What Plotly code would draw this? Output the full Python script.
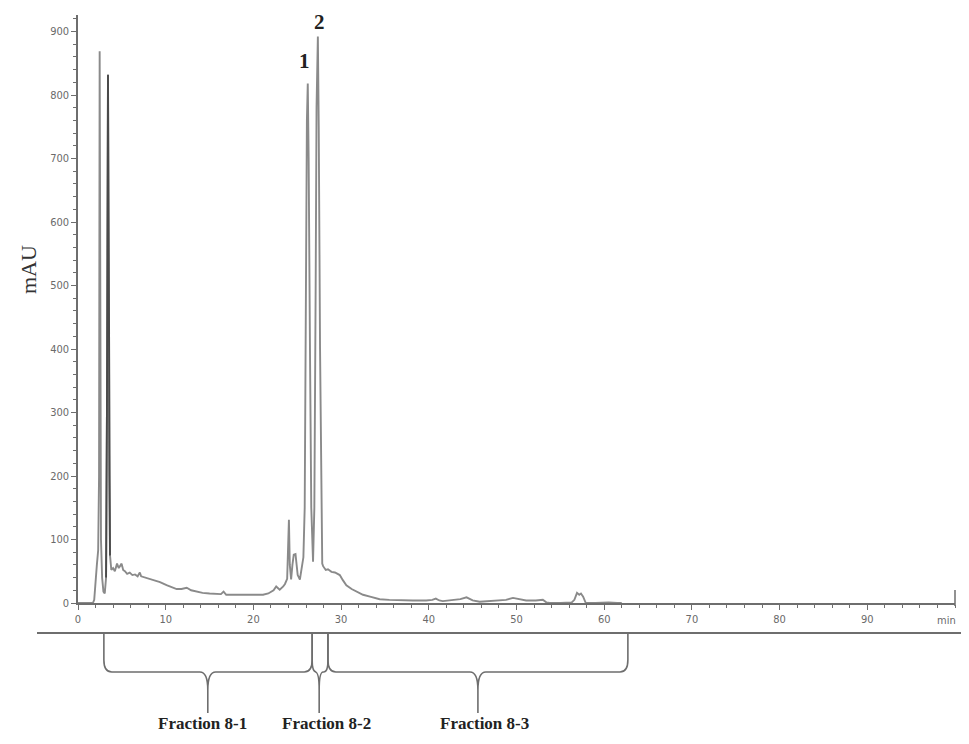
import plotly.graph_objects as go

# ---- data (time in min, absorbance in mAU) ----
time_min = [0, 1.7, 1.85, 2.0, 2.15, 2.3, 2.4, 2.47, 2.55, 2.62, 2.75, 2.9, 3.05, 3.2, 3.3, 3.42, 3.55, 3.65,
            3.8, 4.0, 4.2, 4.45, 4.65, 4.8, 4.97, 5.15, 5.35, 5.6, 5.9, 6.2, 6.5, 6.8, 7.05, 7.2, 7.7, 8.2,
            8.8, 9.35, 10.1, 10.7, 11.25, 11.8, 12.4, 12.9, 13.5, 14.2, 15.0, 15.8, 16.3, 16.6, 16.9, 18.0,
            19.2, 20.2, 21.1, 21.7, 22.3, 22.6, 23.0, 23.4, 23.6, 23.85, 23.95, 24.05, 24.15, 24.3, 24.45,
            24.6, 24.8, 24.95, 25.05, 25.3, 25.55, 25.7, 25.85, 25.95, 26.1, 26.2, 26.3, 26.45, 26.6, 26.8,
            26.95, 27.1, 27.2, 27.35, 27.45, 27.6, 27.75, 27.85, 27.95, 28.1, 28.25, 28.5, 28.9, 29.3, 29.65,
            29.85, 30.2, 30.6, 31.2, 31.8, 32.5, 33.3, 34.4, 35.5, 36.8, 38.2, 39.7, 40.4, 40.8, 41.2, 41.6,
            42.7, 43.6, 44.3, 45.0, 45.8, 46.8, 47.7, 48.8, 49.6, 50.4, 51.1, 52.2, 53.0, 53.4, 53.8, 55.0,
            56.3, 56.6, 56.9, 57.15, 57.35, 57.6, 57.9, 59.0, 60.5, 61.5, 62.0]
absorbance = [0, 0, 5, 40, 60, 83, 200, 869, 430, 100, 40, 18, 15, 40, 300, 832, 200, 75,
              52, 55, 50, 62, 55, 58, 62, 52, 50, 46, 48, 44, 45, 42, 48, 42, 40, 38,
              36, 33, 28, 25, 22, 22, 24, 20, 18, 16, 15, 15, 14, 18, 13, 13,
              13, 13, 13, 15, 20, 26, 21, 26, 30, 38, 90, 131, 60, 37, 60,
              76, 77, 55, 44, 37, 55, 72, 150, 500, 760, 818, 700, 400, 150, 65,
              150, 500, 780, 892, 750, 400, 120, 62, 58, 55, 52, 53, 49, 48, 46,
              44, 36, 28, 22, 18, 13, 10, 6, 5, 4, 4, 4, 5, 7, 4, 3,
              4, 6, 9, 4, 2, 3, 3, 5, 8, 6, 4, 4, 5, 1, 0, 0,
              1, 5, 16, 13, 15, 10, 0, 0, 1, 0, 0]

peak_labels = ["1", "2"]
peak_label_time = [25.8, 27.5]
peak_label_mau = [853, 915]

fractions = ["Fraction 8-1", "Fraction 8-2", "Fraction 8-3"]
frac_start = [2.95, 26.7, 28.5]
frac_end = [26.7, 28.5, 62.7]
frac_cusp = [14.8, 27.5, 45.6]
frac_label_x = [14.2, 28.3, 46.3]

X_MAX = 100
Y_MAX = 926

fig = go.Figure()
fig.add_trace(go.Scatter(x=time_min, y=absorbance, mode="lines",
                         line=dict(color="#8a8a8a", width=1.9), hoverinfo="skip",
                         showlegend=False))
# darker stroke of the second early peak
sel = [i for i, t in enumerate(time_min) if 3.2 <= t <= 3.65]
fig.add_trace(go.Scatter(x=[time_min[i] for i in sel], y=[absorbance[i] for i in sel], mode="lines",
                         line=dict(color="#4a4a4a", width=1.9), hoverinfo="skip", showlegend=False))

tick_font = dict(family="DejaVu Sans Condensed, Liberation Sans Narrow, Arial Narrow, Roboto, sans-serif",
                 size=11, color="#6a6a6a")

fig.update_xaxes(range=[0, X_MAX], showgrid=False, zeroline=False, showline=True,
                 linecolor="#6e6e6e", linewidth=1.5, ticks="outside", ticklen=5, tickwidth=1.2,
                 tickcolor="#6e6e6e", tickvals=list(range(0, 100, 10)),
                 ticktext=[str(v) for v in range(0, 100, 10)], tickfont=tick_font,
                 minor=dict(dtick=2, ticks="outside", ticklen=3, tickcolor="#6e6e6e", showgrid=False))
fig.update_yaxes(range=[0, Y_MAX], showgrid=False, zeroline=False, showline=True,
                 linecolor="#6e6e6e", linewidth=1.5, ticks="outside", ticklen=5, tickwidth=1.2,
                 tickcolor="#6e6e6e", tickvals=list(range(0, 1000, 100)), tickfont=tick_font,
                 minor=dict(dtick=20, ticks="outside", ticklen=3, tickcolor="#6e6e6e", showgrid=False))

# page offset (body margin) compensation
OFF = 8
W, H = 969 - OFF, 744 - OFF
ml, mr, mt, mb = 78 - OFF, 14, 15 - OFF, 141
pw, ph = W - ml - mr, H - mt - mb
BASE_Y = 603  # page pixel of the time axis


def py(pixel_y):
    return (BASE_Y - pixel_y) / ph


def ppx(pixel_x):
    return (pixel_x - 78) / pw


def pxf(t):
    return t / X_MAX


shapes = []
line_style = dict(color="#6e6e6e", width=1.6)
# secondary horizontal rule under the time axis
shapes.append(dict(type="line", xref="paper", yref="paper", x0=ppx(37), x1=ppx(975),
                   y0=py(633), y1=py(633), line=dict(color="#6e6e6e", width=2)))
# right-end bar of time axis
shapes.append(dict(type="line", xref="paper", yref="paper", x0=1, x1=1, y0=py(590), y1=py(606),
                   line=dict(color="#6e6e6e", width=1.5)))

ytop, ymid, ytip = py(633), py(672), py(713)
rx = 0.009
cy = py(660)
for s, e, c in zip(frac_start, frac_end, frac_cusp):
    x0, x1, xc = pxf(s), pxf(e), pxf(c)
    r = min(rx, (x1 - x0) / 4)
    path = (f"M {x0},{ytop} L {x0},{cy} Q {x0},{ymid} {x0 + r},{ymid} "
            f"L {xc - r},{ymid} Q {xc},{ymid} {xc},{py(690)} L {xc},{ytip} "
            f"M {xc},{py(690)} Q {xc},{ymid} {xc + r},{ymid} "
            f"L {x1 - r},{ymid} Q {x1},{ymid} {x1},{cy} L {x1},{ytop}")
    shapes.append(dict(type="path", xref="paper", yref="paper", path=path, line=line_style))

annotations = []
for lab, lx in zip(fractions, frac_label_x):
    annotations.append(dict(text=f"<b>{lab}</b>", xref="paper", yref="paper", x=pxf(lx), y=py(723),
                            showarrow=False, xanchor="center", yanchor="middle",
                            font=dict(family="Liberation Serif, Times New Roman, serif", size=17,
                                      color="#222")))
for lab, tx, ty in zip(peak_labels, peak_label_time, peak_label_mau):
    annotations.append(dict(text=f"<b>{lab}</b>", x=tx, y=ty, xref="x", yref="y", showarrow=False,
                            xanchor="center", yanchor="middle",
                            font=dict(family="Liberation Serif, Times New Roman, serif", size=21,
                                      color="#222")))
annotations.append(dict(text="mAU", xref="paper", yref="paper", x=ppx(28), y=py(270),
                        textangle=-90, showarrow=False, xanchor="center", yanchor="middle",
                        font=dict(family="Liberation Serif, Times New Roman, serif", size=22,
                                  color="#333")))
annotations.append(dict(text="min", xref="paper", yref="paper", x=ppx(946), y=py(620),
                        showarrow=False, xanchor="center", yanchor="middle", font=tick_font))

fig.update_layout(width=W, height=H, margin=dict(l=ml, r=mr, t=mt, b=mb),
                  plot_bgcolor="white", paper_bgcolor="white", shapes=shapes,
                  annotations=annotations, showlegend=False)

fig.write_html("out.html")
